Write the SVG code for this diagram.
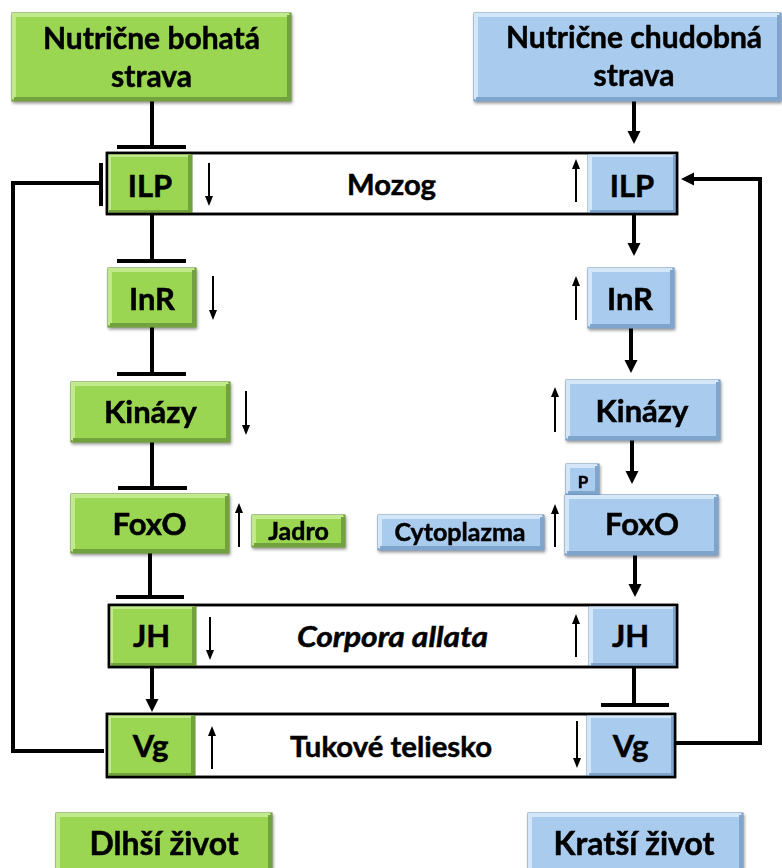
<svg xmlns="http://www.w3.org/2000/svg" width="782" height="868" viewBox="0 0 782 868">
<style>
text{font-family:Lato,"Liberation Sans",sans-serif;font-weight:bold;fill:#000;stroke:#000;stroke-width:0.5;text-anchor:middle}
.f30{font-size:30px}.f31{font-size:31px}.f32{font-size:32px}.f29{font-size:29px}.f25{font-size:25px}.f17{font-size:17px}
.it{font-style:italic}
.g{fill:#9bd653;stroke:#5d8a2e;stroke-width:1}
.b{fill:#a9cbee;stroke:#6b8db3;stroke-width:1}
.gl{fill:none;stroke:#c0ea8b;stroke-width:4}
.gd{fill:none;stroke:#72a23c;stroke-width:4}
.bl{fill:none;stroke:#d4e7f9;stroke-width:4}
.bd{fill:none;stroke:#7fa5cd;stroke-width:4}
.bar{fill:#fff;stroke:#000;stroke-width:2.5}
.barline{fill:none;stroke:#000;stroke-width:2.5}
.c{fill:none;stroke:#000;stroke-width:4}
.s{fill:none;stroke:#000;stroke-width:2}
.ca{marker-end:url(#arr)}
.sa{marker-end:url(#sarr)}
</style>
<defs>
<marker id="arr" markerUnits="userSpaceOnUse" markerWidth="14" markerHeight="14" refX="4" refY="6.5" orient="auto"><path d="M0,0 L13,6.5 L0,13 z" fill="#000"/></marker>
<marker id="sarr" markerUnits="userSpaceOnUse" markerWidth="10" markerHeight="10" refX="2" refY="4" orient="auto"><path d="M0,0 L10,4 L0,8 z" fill="#000"/></marker>
<filter id="sh" x="-10%" y="-10%" width="130%" height="140%"><feDropShadow dx="1" dy="2" stdDeviation="1.5" flood-opacity="0.4"/></filter>
</defs>

<g id="bars">
<rect class="bar" x="107" y="153" width="570" height="61"/>
<rect class="bar" x="109" y="605" width="568" height="62"/>
<rect class="bar" x="107" y="714" width="568" height="63"/>
</g>

<g id="connectors">
<path class="c" d="M152,101 V147 M117,147 H186"/>
<path class="c" d="M152,214 V261 M117,261 H186"/>
<path class="c" d="M152,327 V374 M117,374 H186"/>
<path class="c" d="M152,442 V488 M118,488 H187"/>
<path class="c" d="M150,553 V597 M116,597 H184"/>
<path class="c ca" d="M152,667 V703"/>
<path class="c" d="M104,751 H13 V183 H101 M101,163 V206"/>
<path class="c ca" d="M634,101 V135"/>
<path class="c ca" d="M634,214 V247"/>
<path class="c ca" d="M631,328 V364"/>
<path class="c ca" d="M632,440 V475"/>
<path class="c ca" d="M635,555 V588"/>
<path class="c" d="M634,667 V705 M601,705 H669"/>
<path class="c ca" d="M676,743 H760 V179 H690"/>
<path class="s sa" d="M209,163 V198"/>
<path class="s sa" d="M576,202 V167"/>
<path class="s sa" d="M213,276 V312"/>
<path class="s sa" d="M576,320 V284"/>
<path class="s sa" d="M246,391 V427"/>
<path class="s sa" d="M555,432 V395"/>
<path class="s sa" d="M239,547 V511"/>
<path class="s sa" d="M555,547 V512"/>
<path class="s sa" d="M210,617 V652"/>
<path class="s sa" d="M576,657 V622"/>
<path class="s sa" d="M212,769 V734"/>
<path class="s sa" d="M577,721 V760"/>
</g>

<g id="n-rich" filter="url(#sh)">
<rect class="g" x="12" y="13" width="279" height="88"/>
<path class="gl" d="M14,99 V15 H289"/><path class="gd" d="M289,15 V99 H14"/>
<text class="f30" x="151.5" y="49">Nutrične bohatá</text>
<text class="f30" x="151.5" y="87">strava</text>
</g>
<g id="n-poor" filter="url(#sh)">
<rect class="b" x="474" y="13" width="307" height="88"/>
<path class="bl" d="M476,99 V15 H779"/><path class="bd" d="M779,15 V99 H476"/>
<text class="f30" x="634" y="48">Nutrične chudobná</text>
<text class="f30" x="634" y="86">strava</text>
</g>

<text class="f29" x="391.5" y="195" textLength="89" lengthAdjust="spacingAndGlyphs">Mozog</text>
<text class="f29 it" x="392.5" y="647" textLength="191" lengthAdjust="spacingAndGlyphs">Corpora allata</text>
<text class="f29" x="391" y="757" textLength="202" lengthAdjust="spacingAndGlyphs">Tukové teliesko</text>

<g id="ilp-g">
<rect class="g" x="107" y="153" width="85" height="61"/>
<path class="gl" d="M109,212 V155 H190"/><path class="gd" d="M190,155 V212 H109"/>
<text class="f31" x="150" y="197">ILP</text>
</g>
<g id="ilp-b">
<rect class="b" x="588" y="153" width="89" height="61"/>
<path class="bl" d="M590,212 V155 H675"/><path class="bd" d="M675,155 V212 H590"/>
<text class="f31" x="632" y="197">ILP</text>
</g>
<g id="inr-g" filter="url(#sh)">
<rect class="g" x="108" y="268" width="88" height="59"/>
<path class="gl" d="M110,325 V270 H194"/><path class="gd" d="M194,270 V325 H110"/>
<text class="f31" x="152" y="310">InR</text>
</g>
<g id="inr-b" filter="url(#sh)">
<rect class="b" x="588" y="268" width="86" height="60"/>
<path class="bl" d="M590,326 V270 H672"/><path class="bd" d="M672,270 V326 H590"/>
<text class="f31" x="630" y="310">InR</text>
</g>
<g id="kin-g" filter="url(#sh)">
<rect class="g" x="71" y="382" width="159" height="60"/>
<path class="gl" d="M73,440 V384 H228"/><path class="gd" d="M228,384 V440 H73"/>
<text class="f31" x="150.5" y="423">Kinázy</text>
</g>
<g id="kin-b" filter="url(#sh)">
<rect class="b" x="566" y="380" width="154" height="60"/>
<path class="bl" d="M568,438 V382 H718"/><path class="bd" d="M718,382 V438 H568"/>
<text class="f31" x="642" y="422">Kinázy</text>
</g>
<g id="fox-g" filter="url(#sh)">
<rect class="g" x="71" y="494" width="158" height="59"/>
<path class="gl" d="M73,551 V496 H227"/><path class="gd" d="M227,496 V551 H73"/>
<text class="f31" x="149.5" y="535">FoxO</text>
</g>
<g id="p-b" filter="url(#sh)">
<rect class="b" x="566" y="464" width="33" height="31"/>
<path class="bl" d="M568,493 V466 H597"/><path class="bd" d="M597,466 V493 H568"/>
<text class="f17" x="583" y="488">P</text>
</g>
<g id="fox-b" filter="url(#sh)">
<rect class="b" x="565" y="495" width="153" height="60"/>
<path class="bl" d="M567,553 V497 H716"/><path class="bd" d="M716,497 V553 H567"/>
<text class="f31" x="642" y="535">FoxO</text>
</g>
<g id="jadro" filter="url(#sh)">
<rect class="g" x="252" y="515" width="93" height="32"/>
<path class="gl" d="M254,545 V517 H343"/><path class="gd" d="M343,517 V545 H254"/>
<text class="f25" x="298.5" y="540">Jadro</text>
</g>
<g id="cyto" filter="url(#sh)">
<rect class="b" x="378" y="515" width="166" height="35"/>
<path class="bl" d="M380,548 V517 H542"/><path class="bd" d="M542,517 V548 H380"/>
<text class="f25" x="460" y="541">Cytoplazma</text>
</g>
<g id="jh-g">
<rect class="g" x="109" y="605" width="87" height="62"/>
<path class="gl" d="M111,665 V607 H194"/><path class="gd" d="M194,607 V665 H111"/>
<text class="f31" x="151.5" y="647">JH</text>
</g>
<g id="jh-b">
<rect class="b" x="589" y="605" width="88" height="62"/>
<path class="bl" d="M591,665 V607 H675"/><path class="bd" d="M675,607 V665 H591"/>
<text class="f31" x="630.5" y="647">JH</text>
</g>
<g id="vg-g">
<rect class="g" x="107" y="714" width="88" height="63"/>
<path class="gl" d="M109,775 V716 H193"/><path class="gd" d="M193,716 V775 H109"/>
<text class="f31" x="150.5" y="757">Vg</text>
</g>
<g id="vg-b">
<rect class="b" x="587" y="714" width="88" height="63"/>
<path class="bl" d="M589,775 V716 H673"/><path class="bd" d="M673,716 V775 H589"/>
<text class="f31" x="630.5" y="757">Vg</text>
</g>

<g id="bar-outlines">
<rect class="barline" x="107" y="153" width="570" height="61"/>
<rect class="barline" x="109" y="605" width="568" height="62"/>
<rect class="barline" x="107" y="714" width="568" height="63"/>
</g>

<g id="longer" filter="url(#sh)">
<rect class="g" x="56" y="813" width="216" height="60"/>
<path class="gl" d="M58,871 V815 H270"/><path class="gd" d="M270,815 V871"/>
<text class="f32" x="164" y="855">Dlhší život</text>
</g>
<g id="shorter" filter="url(#sh)">
<rect class="b" x="528" y="813" width="215" height="60"/>
<path class="bl" d="M530,871 V815 H741"/><path class="bd" d="M741,815 V871"/>
<text class="f32" x="634" y="855">Kratší život</text>
</g>
</svg>
